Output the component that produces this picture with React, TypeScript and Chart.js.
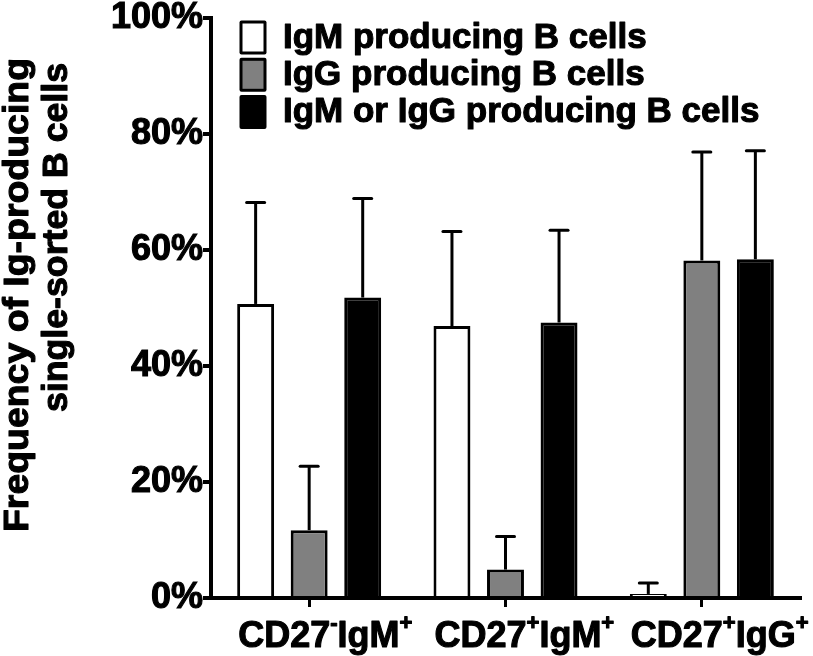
import React, { useEffect, useRef } from 'react';
import { Chart, registerables } from 'chart.js';

Chart.register(...registerables);

// ---------- data ----------
const categories = ['CD27-IgM+', 'CD27+IgM+', 'CD27+IgG+'];
const categoryBase1 = ['CD27', 'CD27', 'CD27'];
const categorySup1 = ['-', '+', '+'];
const categoryBase2 = ['IgM', 'IgM', 'IgG'];
const categorySup2 = ['+', '+', '+'];

const seriesNames = ['IgM producing B cells', 'IgG producing B cells', 'IgM or IgG producing B cells'];
const igmValues = [50.7, 46.9, 0.7];
const igmErrors = [17.5, 16.3, 1.9];
const iggValues = [11.7, 4.9, 58.2];
const iggErrors = [11.0, 5.7, 18.7];
const eitherValues = [51.8, 47.5, 58.4];
const eitherErrors = [17.1, 15.9, 18.7];
const seriesColors = ['#ffffff', '#808080', '#000000'];

const yTicks = [0, 20, 40, 60, 80, 100];
const yTitle = ['Frequency of Ig-producing', 'single-sorted B cells'];

const errorSets = [igmErrors, iggErrors, eitherErrors];
const FONT = '"Liberation Sans", Arial, Helvetica, sans-serif';
const STROKE = 1.1;

function boldText(ctx: CanvasRenderingContext2D, t: string, x: number, y: number) {
  ctx.fillText(t, x, y);
  ctx.strokeText(t, x, y);
}

const decorPlugin = {
  id: 'decor',
  afterDatasetsDraw(chart: any) {
    const ctx = chart.ctx;
    const ys = chart.scales.y;
    ctx.save();
    ctx.strokeStyle = '#000';
    ctx.lineWidth = 3;
    errorSets.forEach((errs, di) => {
      const meta = chart.getDatasetMeta(di);
      meta.data.forEach((bar: any, i: number) => {
        const v = chart.data.datasets[di].data[i] as number;
        const yTop = ys.getPixelForValue(v + errs[i]);
        ctx.lineCap = 'butt';
        ctx.beginPath();
        ctx.moveTo(bar.x, bar.y);
        ctx.lineTo(bar.x, yTop);
        ctx.stroke();
        ctx.lineCap = 'round';
        ctx.beginPath();
        ctx.moveTo(bar.x - 9, yTop);
        ctx.lineTo(bar.x + 9, yTop);
        ctx.stroke();
      });
    });
    ctx.restore();
  },
  afterDraw(chart: any) {
    const ctx = chart.ctx;
    ctx.save();
    ctx.fillStyle = '#000';
    ctx.strokeStyle = '#000';
    ctx.lineWidth = STROKE;
    ctx.lineJoin = 'round';

    // legend
    const boxX = 239.5, boxW = 27, boxH = 34, rowStep = 37.3, boxTop0 = 20.5;
    seriesNames.forEach((name, i) => {
      const top = boxTop0 + i * rowStep;
      ctx.fillStyle = '#000';
      ctx.beginPath();
      (ctx as any).roundRect ? ctx.roundRect(boxX, top, boxW, boxH, 2) : ctx.rect(boxX, top, boxW, boxH);
      ctx.fill();
      ctx.fillStyle = seriesColors[i];
      ctx.fillRect(boxX + 3, top + 3, boxW - 6, boxH - 6);
      ctx.fillStyle = '#000';
      ctx.font = `bold 35px ${FONT}`;
      ctx.textAlign = 'left';
      ctx.textBaseline = 'alphabetic';
      boldText(ctx, name, 283, 47.5 + i * rowStep);
    });

    // y title (rotated, end-aligned)
    ctx.font = `bold 35px ${FONT}`;
    const titlePos = [[27.5, 58], [67, 63]];
    const titleLen = [474, 349];
    yTitle.forEach((line, i) => {
      ctx.save();
      ctx.translate(titlePos[i][0], titlePos[i][1]);
      ctx.rotate(-Math.PI / 2);
      const w = ctx.measureText(line).width;
      ctx.scale(titleLen[i] / w, 1);
      ctx.textAlign = 'right';
      ctx.textBaseline = 'alphabetic';
      boldText(ctx, line, 0, 0);
      ctx.restore();
    });

    // x labels with superscripts
    const xs = chart.scales.x;
    const base = `bold 36px ${FONT}`;
    const sup = `bold 22px ${FONT}`;
    categories.forEach((_, i) => {
      const tx = xs.getPixelForValue(i);
      let x = tx - 71;
      ctx.textAlign = 'left';
      ctx.textBaseline = 'alphabetic';
      const parts: [string, string, number][] = [
        [categoryBase1[i], base, 647],
        [categorySup1[i], sup, 630],
        [categoryBase2[i], base, 647],
        [categorySup2[i], sup, 630],
      ];
      parts.forEach(([t, f, by]) => {
        ctx.font = f;
        boldText(ctx, t, x, by);
        x += ctx.measureText(t).width;
      });
    });
    ctx.restore();
  },
};

export default function App() {
  const ref = useRef<HTMLCanvasElement>(null);
  useEffect(() => {
    const chart = new Chart(ref.current as HTMLCanvasElement, {
      type: 'bar',
      data: {
        labels: categories,
        datasets: [
          { label: seriesNames[0], data: igmValues, backgroundColor: seriesColors[0] },
          { label: seriesNames[1], data: iggValues, backgroundColor: seriesColors[1] },
          { label: seriesNames[2], data: eitherValues, backgroundColor: seriesColors[2] },
        ].map((d) => ({
          ...d,
          borderColor: '#000',
          borderWidth: 3,
          barPercentage: 0.69,
          categoryPercentage: 0.818,
        })),
      },
      options: {
        animation: false,
        responsive: false,
        maintainAspectRatio: false,
        devicePixelRatio: 1,
        layout: { padding: { top: 18, right: 13, bottom: 0, left: 0 } },
        plugins: { legend: { display: false }, tooltip: { enabled: false } },
        scales: {
          x: {
            type: 'category',
            offset: true,
            grid: {
              display: true,
              drawOnChartArea: false,
              drawTicks: true,
              tickLength: 9,
              color: '#000',
              lineWidth: 3,
              offset: false,
            },
            border: { display: true, color: '#000', width: 4 },
            ticks: { display: false },
            afterFit: (s: any) => {
              s.height = 58;
            },
          },
          y: {
            min: 0,
            max: 100,
            afterBuildTicks: (s: any) => {
              s.ticks = yTicks.map((v) => ({ value: v }));
            },
            grid: {
              display: true,
              drawOnChartArea: false,
              drawTicks: true,
              tickLength: 8,
              color: '#000',
              lineWidth: 4,
            },
            border: { display: true, color: '#000', width: 4 },
            ticks: {
              padding: 0,
              color: '#000',
              textStrokeColor: '#000',
              textStrokeWidth: STROKE,
              font: { family: FONT, size: 36, weight: 'bold', lineHeight: 1 },
              callback: (v: any) => v + '%',
            },
            afterFit: (s: any) => {
              s.width = 211;
            },
          },
        },
      } as any,
      plugins: [decorPlugin],
    });
    return () => chart.destroy();
  }, []);
  return (
    <div style={{ position: 'fixed', left: 0, top: 0, width: 813, height: 656, background: '#fff' }}>
      <canvas ref={ref} width={813} height={656} style={{ display: 'block' }} />
    </div>
  );
}
